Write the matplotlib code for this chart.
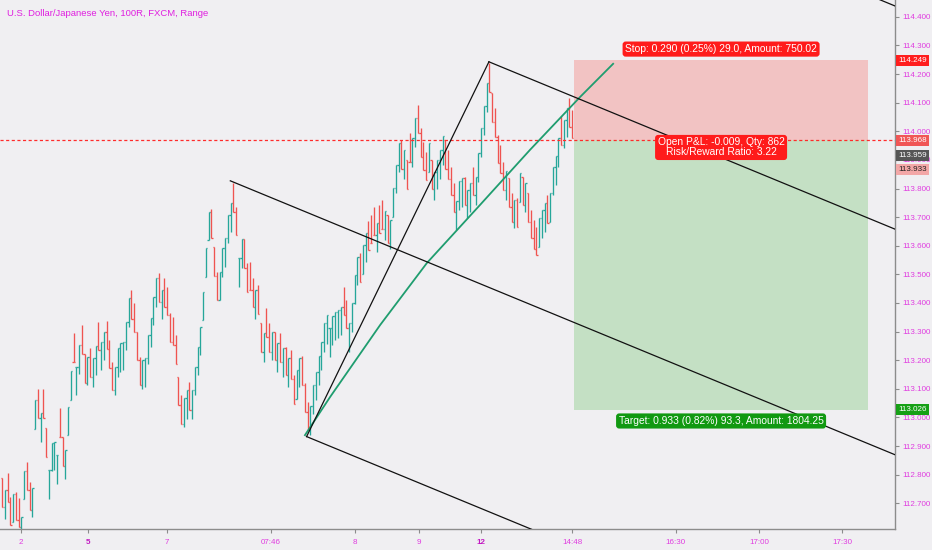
import matplotlib
matplotlib.use("Agg")
import matplotlib.pyplot as plt
import numpy as np

plt.rcParams["font.family"] = ["Liberation Sans", "DejaVu Sans"]

# 100R range bars: every bar spans 100 ticks of 0.001
BAR_RANGE = 0.100

# bar highs, left to right; direction g = up bar, r = down bar
HIGHS_1 = [112.787, 112.746, 112.804, 112.723, 112.734, 112.740, 112.717, 112.653, 112.814, 112.845,
           112.775, 112.752, 113.061, 113.098, 113.014, 113.098, 112.962, 112.816, 112.912, 112.915,
           112.868, 113.032, 112.930, 112.886, 113.038, 113.162, 113.294, 113.177, 113.253, 113.323,
           113.221, 113.212, 113.242, 113.207, 113.250, 113.335, 113.265, 113.300, 113.338, 113.271,
           113.195, 113.177, 113.242, 113.259, 113.265, 113.335, 113.416, 113.445, 113.399, 113.300,
           113.212, 113.201, 113.207, 113.288, 113.346, 113.422, 113.486, 113.504]
DIRS_1 = "rgrrgrrggr" "rggrgrrggg" "grrgggrggr" "rgrggrggrr" "rggggggrrr" "rggggggr"

HIGHS_2 = [113.445, 113.486, 113.457, 113.364, 113.352, 113.288, 113.142,
           113.078, 113.067, 113.096, 113.125, 113.096, 113.177, 113.247, 113.317, 113.440]
DIRS_2 = "grrrrrr" "rggrggggg"

HIGHS_3 = [113.591, 113.719, 113.727, 113.595, 113.510, 113.510, 113.591, 113.626, 113.708, 113.748,
           113.818, 113.737, 113.556, 113.623, 113.623, 113.539, 113.544, 113.486, 113.445, 113.463,
           113.329, 113.294, 113.381, 113.329, 113.300, 113.300, 113.259, 113.294, 113.241, 113.247,
           113.206, 113.236]
DIRS_3 = "ggrrrggggg" "rrggrrrrgr" "rgrrgrgrgr" "gr"

HIGHS_4 = [113.148, 113.166, 113.207, 113.213, 113.119, 113.055, 113.039, 113.113, 113.160, 113.213,
           113.265, 113.329, 113.358, 113.312, 113.353, 113.370, 113.376, 113.387, 113.457, 113.411,
           113.329, 113.399, 113.498, 113.562, 113.574, 113.603, 113.644, 113.685, 113.708, 113.737,
           113.679, 113.743, 113.760, 113.720, 113.708, 113.690, 113.801, 113.883, 113.959, 113.970,
           113.935, 113.900, 113.994, 113.976, 114.046, 114.093, 114.011, 113.964, 113.929, 113.959]
DIRS_4 = "rggrrrggggggg" "gggggrrggggrggr" "rrgrrgrggggrgr" "rggrrrrg"

HIGHS_5 = [113.900, 113.859, 113.900, 113.935, 113.982, 113.970, 113.935, 113.877, 113.819, 113.755,
           113.825, 113.836, 113.842, 113.796, 113.819, 113.877, 113.842, 113.924, 114.011, 114.087,
           114.168, 114.238, 114.133, 114.081, 113.988, 113.953, 113.894, 113.860, 113.836, 113.784,
           113.761, 113.766, 113.854, 113.842, 113.819, 113.784, 113.726, 113.690, 113.667, 113.696,
           113.726, 113.749, 113.778, 113.784, 113.877, 113.912, 113.976, 114.052, 114.040, 114.081,
           114.116, 114.075]
DIRS_5 = "rggggrrrrg" "ggrggr" "gggggr" "rrrrr" "grrgrgrg" "rrrr" "gggrgggg" "rggrr"

# drawings, in (bar index, price)
GREEN_CURVE_X = [110.0, 119.1, 137.3, 154.3, 173.6, 191.7, 209.9, 221.9]
GREEN_CURVE_Y = [112.938, 113.071, 113.323, 113.540, 113.743, 113.935, 114.120, 114.236]
SWING_X = [110.6, 176.8]
SWING_Y = [112.933, 114.243]
RAY_START_X = [82.9, 110.6, 176.8, 290.0]
RAY_START_Y = [113.827, 112.933, 114.243, 114.574]
RAY_SLOPE = -0.003967  # price per bar

# short position tool
ENTRY = 113.968
STOP = 114.249
TARGET = 113.026
LAST_PRICE = 113.959
PNL_PRICE = 113.933
POSITION_X = [207.7, 314.5]
STOP_TEXT = "Stop: 0.290 (0.25%) 29.0, Amount: 750.02"
PNL_TEXT = "Open P&L: -0.009, Qty: 862\nRisk/Reward Ratio: 3.22"
TARGET_TEXT = "Target: 0.933 (0.82%) 93.3, Amount: 1804.25"

TITLE = "U.S. Dollar/Japanese Yen, 100R, FXCM, Range"
YTICKS = [112.7 + 0.1 * k for k in range(18)]
XTICK_POS = [6.9, 31.2, 59.9, 97.7, 128.2, 151.4, 173.9, 207.0, 244.7, 274.9, 305.0]
XTICK_LABELS = ["2", "5", "7", "07:46", "8", "9", "12", "14:48", "16:30", "17:00", "17:30"]
BOLD_TICKS = ["5", "12"]

BG = "#f0eff2"
UP = "#26a69a"
DOWN = "#ef5350"
MAGENTA = "#e03ce0"
AXIS = "#8c8c8c"


def price_tag(ax, price, text, face, color="white", dy=0):
    ax.annotate(text, xy=(1, price), xycoords=("axes fraction", "data"),
                xytext=(3, dy), textcoords="offset pixels", ha="left", va="center",
                fontsize=5.8, color=color, annotation_clip=False, zorder=10,
                bbox=dict(boxstyle="square,pad=0.25", fc=face, ec="none"))


def box_label(ax, x, price, text, face, dy):
    ax.annotate(text, xy=(x, price), xytext=(0, dy), textcoords="offset pixels",
                ha="center", va="center", fontsize=7.4, color="white", zorder=9,
                linespacing=1.0,
                bbox=dict(boxstyle="round,pad=0.25,rounding_size=0.3", fc=face, ec="none"))


def main():
    highs = np.array(HIGHS_1 + HIGHS_2 + HIGHS_3 + HIGHS_4 + HIGHS_5)
    up = np.array([d == "g" for d in DIRS_1 + DIRS_2 + DIRS_3 + DIRS_4 + DIRS_5])
    lows = highs - BAR_RANGE
    closes = np.where(up, highs, lows)
    opens = np.empty_like(closes)
    opens[0] = lows[0] if up[0] else highs[0]
    opens[1:] = np.clip(closes[:-1], lows[1:], highs[1:])
    x = np.arange(len(highs))
    colors = np.where(up, UP, DOWN)

    fig = plt.figure(figsize=(9.32, 5.5), dpi=100)
    fig.patch.set_facecolor(BG)
    ax = fig.add_axes([0, 21 / 550, 895 / 932, 529 / 550])
    ax.set_facecolor(BG)
    ax.set_xlim(-0.73, 324.25)
    ax.set_ylim(112.610, 114.459)

    # position zones
    ax.fill_between(POSITION_X, ENTRY, STOP, color="#f2c3c3", lw=0, zorder=1)
    ax.fill_between(POSITION_X, TARGET, ENTRY, color="#c4e0c4", lw=0, zorder=1)

    # OHLC bars
    ax.vlines(x, lows, highs, colors=colors, lw=0.95, zorder=2)
    ax.hlines(opens, x - 0.45, x, colors=colors, lw=0.95, zorder=2)
    ax.hlines(closes, x, x + 0.45, colors=colors, lw=0.95, zorder=2)

    ax.axhline(ENTRY, color="#ff2b2b", lw=0.9, ls=(0, (2.5, 2)), zorder=3)

    # drawings
    ax.plot(GREEN_CURVE_X, GREEN_CURVE_Y, color="#1f9d6f", lw=1.3, zorder=4)
    ax.plot(SWING_X, SWING_Y, color="#111111", lw=0.9, zorder=4)
    x_end = ax.get_xlim()[1]
    for x0, y0 in zip(RAY_START_X, RAY_START_Y):
        ax.plot([x0, x_end], [y0, y0 + RAY_SLOPE * (x_end - x0)], color="#111111", lw=0.9, zorder=4)

    xc = sum(POSITION_X) / 2
    box_label(ax, xc, STOP, STOP_TEXT, "#ff1b1b", 11)
    box_label(ax, xc, ENTRY, PNL_TEXT, "#ff1b1b", -7)
    box_label(ax, xc, TARGET, TARGET_TEXT, "#119911", -11)

    # axes styling
    for side in ("top", "left"):
        ax.spines[side].set_visible(False)
    for side in ("right", "bottom"):
        ax.spines[side].set_color(AXIS)
        ax.spines[side].set_linewidth(1.0)
    ax.yaxis.tick_right()
    ax.set_yticks(YTICKS)
    ax.set_yticklabels([f"{v:.3f}" for v in YTICKS])
    ax.set_xticks(XTICK_POS)
    ax.set_xticklabels(XTICK_LABELS)
    ax.tick_params(axis="both", colors=AXIS, labelcolor=MAGENTA, labelsize=5.8,
                   length=3, width=0.8, direction="out")
    ax.tick_params(axis="y", pad=2)
    ax.tick_params(axis="x", pad=4)
    for lbl in ax.get_xticklabels():
        if lbl.get_text() in BOLD_TICKS:
            lbl.set_fontweight("bold")
            lbl.set_color("#c218c2")

    price_tag(ax, STOP, f"{STOP:.3f}", "#ff1e1e")
    price_tag(ax, ENTRY, f"{ENTRY:.3f}", "#f05656")
    price_tag(ax, LAST_PRICE, f"{LAST_PRICE:.3f}", "#555555", dy=-12)
    price_tag(ax, PNL_PRICE, f"{PNL_PRICE:.3f}", "#f3a7a7", color="#222222", dy=-19)
    price_tag(ax, TARGET, f"{TARGET:.3f}", "#16a016")

    fig.text(7 / 932, 1 - 14 / 550, TITLE, color="#e01ee0", fontsize=6.8, va="center", ha="left")

    fig.savefig("out.png", dpi=100, facecolor=fig.get_facecolor())


if __name__ == "__main__":
    main()
